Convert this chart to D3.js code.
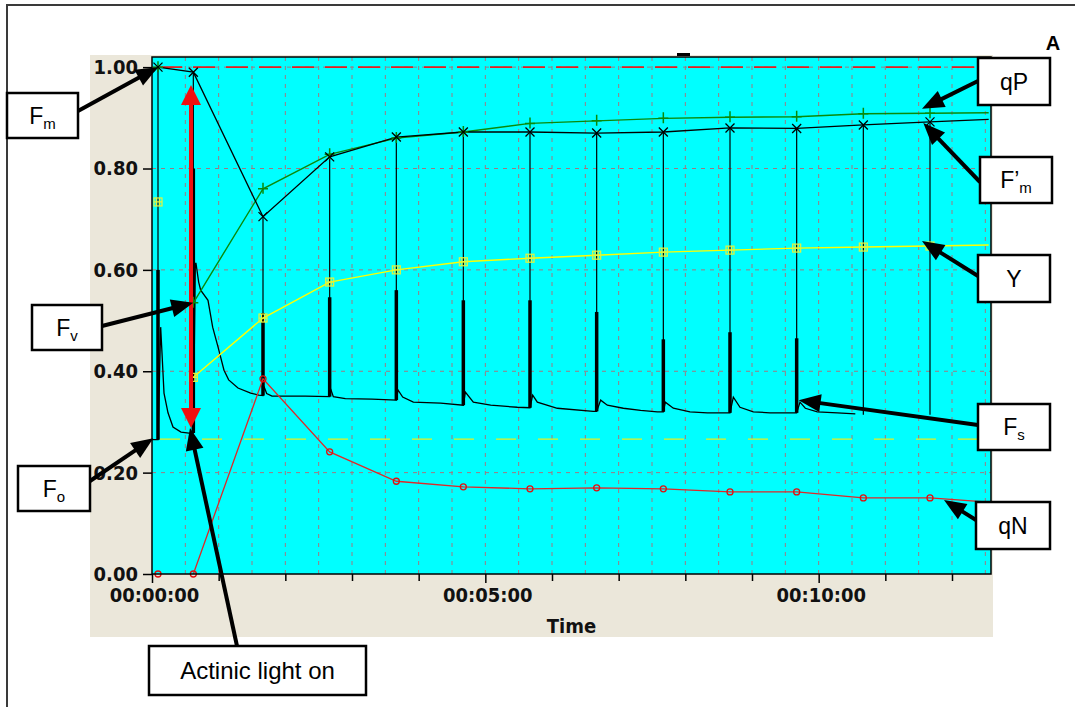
<!DOCTYPE html>
<html>
<head>
<meta charset="utf-8">
<script src="https://cdn.jsdelivr.net/npm/d3@7"></script>
<style>
  body { margin: 0; background: #ffffff; }
  svg { display: block; }
</style>
</head>
<body>
<svg id="chart" width="1075" height="707"></svg>
<script>
// ---- Data (time in minutes, values relative to Fm) ----
// Saturating pulse times
const pulseTimes = [0.09, 0.62, 1.665, 2.665, 3.665, 4.67, 5.67, 6.67, 7.67, 8.67, 9.67, 10.67, 11.67];
// F'm at each pulse
const fmPrime   = [1.00, 0.99, 0.705, 0.823, 0.862, 0.872, 0.872, 0.870, 0.872, 0.880, 0.879, 0.886, 0.892];
// steady-state level at each pulse (foot of the pulse)
const fsAtPulse = [0.265, 0.278, 0.352, 0.350, 0.343, 0.333, 0.328, 0.321, 0.320, 0.318, 0.318, 0.314, 0.314];
// top of the dense part of each pulse trace
const spikeTop  = [0.60, 0.80, 0.515, 0.546, 0.56, 0.54, 0.54, 0.517, 0.463, 0.477, 0.465, null, null];
// derived parameters at each pulse
const qPValues  = [1.00, 0.535, 0.760, 0.828, 0.860, 0.872, 0.889, 0.894, 0.899, 0.901, 0.902, 0.908, 0.909];
const yValues   = [0.734, 0.388, 0.505, 0.576, 0.600, 0.616, 0.623, 0.629, 0.635, 0.639, 0.643, 0.645, 0.647];
const qNValues  = [0.00, 0.00, 0.385, 0.241, 0.183, 0.172, 0.168, 0.170, 0.168, 0.162, 0.162, 0.150, 0.150];
// level of each parameter line at the end of the record
const endTime = 12.55;
const fmPrimeEnd = 0.897, qPEnd = 0.910, yEnd = 0.649, qNEnd = 0.142;
// dark-adapted Fo reference level
const foLevel = 0.266;
// continuous fluorescence trace [time, value]
const traceTimes = [0, 0.09, 0.13, 0.15, 0.165, 0.18, 0.24, 0.315, 0.435, 0.555, 0.62,
  0.65, 0.66, 0.70, 0.73, 0.84, 0.91, 0.99, 1.08, 1.15, 1.29, 1.48, 1.60, 1.665,
  1.68, 1.72, 1.80, 2.30, 2.665,
  2.68, 2.72, 2.90, 3.30, 3.665,
  3.69, 3.76, 3.92, 4.33, 4.67,
  4.70, 4.82, 5.08, 5.48, 5.67,
  5.71, 5.78, 6.08, 6.62, 6.67,
  6.73, 6.83, 7.07, 7.33, 7.58, 7.67,
  7.70, 7.82, 8.07, 8.33, 8.67,
  8.72, 8.82, 9.02, 9.27, 9.67,
  9.72, 9.80, 9.98, 10.28, 10.55];
const traceValues = [0.265, 0.265, 0.487, 0.436, 0.396, 0.357, 0.318, 0.290, 0.280, 0.278, 0.278,
  0.613, 0.613, 0.576, 0.560, 0.540, 0.487, 0.448, 0.402, 0.383, 0.367, 0.357, 0.353, 0.352,
  0.370, 0.356, 0.351, 0.351, 0.350,
  0.365, 0.350, 0.346, 0.345, 0.343,
  0.363, 0.349, 0.339, 0.337, 0.333,
  0.359, 0.339, 0.333, 0.329, 0.328,
  0.353, 0.339, 0.327, 0.321, 0.321,
  0.343, 0.333, 0.327, 0.323, 0.320, 0.320,
  0.339, 0.327, 0.320, 0.318, 0.318,
  0.349, 0.329, 0.320, 0.318, 0.318,
  0.339, 0.327, 0.320, 0.318, 0.316];
// axis ticks
const yTicks = [0, 0.2, 0.4, 0.6, 0.8, 1.0];
const xTicks = d3.range(0, 13, 1);
const xLabelled = [0, 5, 10];

// ---- Layout ----
const svg = d3.select("#chart");
const plot = { left: 152, top: 57, right: 991, bottom: 574 };
const x = d3.scaleLinear().domain([0, 12.585]).range([plot.left, plot.right]);
const y = d3.scaleLinear().domain([0, 1.02]).range([plot.bottom, plot.top]);

const tickFont = "'DejaVu Sans Condensed', 'DejaVu Sans', sans-serif";
const boxFont = "'Liberation Sans', Arial, sans-serif";

// outer frame (top and left edges)
svg.append("path").attr("d", "M7,707 V5 H1075")
  .attr("fill", "none").attr("stroke", "#3a3a3a").attr("stroke-width", 2);

// chart panel
svg.append("rect").attr("x", 90).attr("y", 55).attr("width", 903).attr("height", 582)
  .attr("fill", "#ebe7da");
svg.append("rect").attr("x", plot.left).attr("y", plot.top)
  .attr("width", plot.right - plot.left).attr("height", plot.bottom - plot.top)
  .attr("fill", "#00ffff");

// grid
const grid = svg.append("g").attr("stroke", "#a07880").attr("stroke-width", 1)
  .attr("stroke-dasharray", "4,5");
grid.selectAll("line.v").data(d3.range(0.5, 12.6, 0.5)).join("line")
  .attr("x1", d => x(d)).attr("x2", d => x(d))
  .attr("y1", plot.top).attr("y2", plot.bottom);
grid.selectAll("line.h").data(yTicks.slice(1)).join("line")
  .attr("x1", plot.left).attr("x2", plot.right)
  .attr("y1", d => y(d)).attr("y2", d => y(d));

// Fm (1.0) and Fo reference lines
svg.append("line").attr("x1", plot.left + 8).attr("x2", plot.right)
  .attr("y1", y(1)).attr("y2", y(1))
  .attr("stroke", "#e41e1e").attr("stroke-width", 1.7).attr("stroke-dasharray", "22,11");
svg.append("line").attr("x1", plot.left + 8).attr("x2", plot.right)
  .attr("y1", y(foLevel)).attr("y2", y(foLevel))
  .attr("stroke", "#e8f020").attr("stroke-width", 1.4).attr("stroke-dasharray", "20,22");

// fluorescence trace
const trace = traceTimes.map((t, i) => [t, traceValues[i]]);
svg.append("path").datum(trace)
  .attr("d", d3.line().x(d => x(d[0])).y(d => y(d[1])))
  .attr("fill", "none").attr("stroke", "#000").attr("stroke-width", 1.3);

// saturating pulses: thin line up to F'm, dense part drawn thick
const pulses = pulseTimes.map((t, i) => ({ t, fm: fmPrime[i], fs: fsAtPulse[i], top: spikeTop[i] }));
svg.append("g").selectAll("line").data(pulses).join("line")
  .attr("x1", d => x(d.t)).attr("x2", d => x(d.t))
  .attr("y1", d => y(d.fs)).attr("y2", d => y(d.fm))
  .attr("stroke", "#000").attr("stroke-width", 1.2);
svg.append("g").selectAll("line").data(pulses.filter(d => d.top !== null)).join("line")
  .attr("x1", d => x(d.t)).attr("x2", d => x(d.t))
  .attr("y1", d => y(d.fs)).attr("y2", d => y(d.top))
  .attr("stroke", "#000").attr("stroke-width", 3.5);

// parameter series
function seriesPoints(values, endValue, from) {
  const pts = pulseTimes.map((t, i) => [t, values[i]]).slice(from);
  pts.push([endTime, endValue]);
  return pts;
}
const line = d3.line().x(d => x(d[0])).y(d => y(d[1]));

const fmPts = seriesPoints(fmPrime, fmPrimeEnd, 0);
const qPPts = seriesPoints(qPValues, qPEnd, 1);
const yPts  = seriesPoints(yValues, yEnd, 1);
const qNPts = seriesPoints(qNValues, qNEnd, 1);

svg.append("path").datum(qNPts).attr("d", line)
  .attr("fill", "none").attr("stroke", "#e02828").attr("stroke-width", 1.3);
svg.append("path").datum(yPts).attr("d", line)
  .attr("fill", "none").attr("stroke", "#ffff00").attr("stroke-width", 1.4);
svg.append("path").datum(qPPts).attr("d", line)
  .attr("fill", "none").attr("stroke", "#0a8a0a").attr("stroke-width", 1.4);
svg.append("path").datum(fmPts).attr("d", line)
  .attr("fill", "none").attr("stroke", "#000").attr("stroke-width", 1.3);

// markers
const markerData = v => pulseTimes.map((t, i) => [t, v[i]]);
// qN: open circles
svg.append("g").selectAll("circle").data(markerData(qNValues)).join("circle")
  .attr("cx", d => x(d[0])).attr("cy", d => y(d[1])).attr("r", 3)
  .attr("fill", "none").attr("stroke", "#e01010").attr("stroke-width", 1.3);
// Y: hatched squares
const ym = svg.append("g").attr("stroke", "#e4f43c").attr("stroke-width", 1.2).attr("fill", "none");
markerData(yValues).forEach(d => {
  const cx = x(d[0]), cy = y(d[1]);
  ym.append("rect").attr("x", cx - 4).attr("y", cy - 4).attr("width", 8).attr("height", 8);
  ym.append("path").attr("d", `M${cx - 1.5},${cy - 4}V${cy + 4}M${cx + 1.5},${cy - 4}V${cy + 4}M${cx - 4},${cy}H${cx + 4}`);
});
// qP: plus signs
svg.append("g").selectAll("path").data(markerData(qPValues)).join("path")
  .attr("d", d => { const cx = x(d[0]), cy = y(d[1]); return `M${cx},${cy - 6}V${cy + 5}M${cx - 5},${cy}H${cx + 5}`; })
  .attr("stroke", "#0a8a0a").attr("stroke-width", 1.5).attr("fill", "none");
// F'm: crosses
svg.append("g").selectAll("path").data(markerData(fmPrime)).join("path")
  .attr("d", d => { const cx = x(d[0]), cy = y(d[1]); return `M${cx - 4.5},${cy - 4.5}L${cx + 4.5},${cy + 4.5}M${cx - 4.5},${cy + 4.5}L${cx + 4.5},${cy - 4.5}`; })
  .attr("stroke", "#000").attr("stroke-width", 1.3).attr("fill", "none");

// plot border
svg.append("rect").attr("x", plot.left).attr("y", plot.top)
  .attr("width", plot.right - plot.left).attr("height", plot.bottom - plot.top)
  .attr("fill", "none").attr("stroke", "#000").attr("stroke-width", 1.5);
svg.append("rect").attr("x", 677).attr("y", 53).attr("width", 13).attr("height", 3).attr("fill", "#000");

// axes
const fmtTime = m => d3.utcFormat("%H:%M:%S")(new Date(m * 60000));
const xAxis = svg.append("g").attr("transform", `translate(0,${plot.bottom})`)
  .call(d3.axisBottom(x).tickValues(xTicks).tickSize(7).tickPadding(7)
    .tickFormat(d => xLabelled.includes(d) ? fmtTime(d) : ""));
xAxis.select(".domain").remove();
xAxis.selectAll(".tick line").attr("stroke", "#000").attr("stroke-width", 1.5)
  .attr("y2", d => xLabelled.includes(d) ? 9 : 7);
xAxis.selectAll(".tick text").attr("fill", "#111")
  .style("font-family", tickFont).style("font-weight", "bold").style("font-size", "20px")
  .attr("dx", 2);

const yAxis = svg.append("g").attr("transform", `translate(${plot.left},0)`)
  .call(d3.axisLeft(y).tickValues(yTicks).tickSize(9).tickPadding(5).tickFormat(d3.format(".2f")));
yAxis.select(".domain").remove();
yAxis.selectAll(".tick line").attr("stroke", "#000").attr("stroke-width", 1.5);
yAxis.selectAll(".tick text").attr("fill", "#111")
  .style("font-family", tickFont).style("font-weight", "bold").style("font-size", "20px");

svg.append("text").attr("x", (plot.left + plot.right) / 2).attr("y", 633)
  .attr("text-anchor", "middle").attr("fill", "#111")
  .style("font-family", tickFont).style("font-weight", "bold").style("font-size", "20px")
  .text("Time");

svg.append("text").attr("x", 1053).attr("y", 50).attr("text-anchor", "middle")
  .style("font-family", boxFont).style("font-weight", "bold").style("font-size", "20px")
  .text("A");

// Fv double arrow between Fo and Fm
const fvX = x(0.585);
const fvTop = y(0.965), fvBot = y(0.288);
svg.append("line").attr("x1", fvX).attr("x2", fvX).attr("y1", fvTop + 16).attr("y2", fvBot - 16)
  .attr("stroke", "#f01010").attr("stroke-width", 4);
svg.append("path").attr("d", `M${fvX},${fvTop} L${fvX - 10},${fvTop + 20} L${fvX + 10},${fvTop + 20}Z`).attr("fill", "#f01010");
svg.append("path").attr("d", `M${fvX},${fvBot} L${fvX - 10},${fvBot - 20} L${fvX + 10},${fvBot - 20}Z`).attr("fill", "#f01010");

// callouts
function arrow(x1, y1, x2, y2) {
  const a = Math.atan2(y2 - y1, x2 - x1);
  const len = 22, half = 9;
  const bx = x2 - len * Math.cos(a), by = y2 - len * Math.sin(a);
  svg.append("line").attr("x1", x1).attr("y1", y1).attr("x2", bx + 2 * Math.cos(a)).attr("y2", by + 2 * Math.sin(a))
    .attr("stroke", "#000").attr("stroke-width", 4);
  svg.append("path")
    .attr("d", `M${x2},${y2} L${bx - half * Math.sin(a)},${by + half * Math.cos(a)} L${bx + half * Math.sin(a)},${by - half * Math.cos(a)}Z`)
    .attr("fill", "#000");
}
function callout(bx, by, bw, bh, main, sub, from, tip, size) {
  arrow(from[0], from[1], tip[0], tip[1]);
  svg.append("rect").attr("x", bx).attr("y", by).attr("width", bw).attr("height", bh)
    .attr("fill", "#fff").attr("stroke", "#000").attr("stroke-width", 2.5);
  const t = svg.append("text").attr("x", bx + bw / 2).attr("y", by + bh / 2 + 8)
    .attr("text-anchor", "middle").attr("fill", "#000")
    .style("font-family", boxFont).style("font-size", (size || 23) + "px");
  t.append("tspan").text(main);
  if (sub) t.append("tspan").attr("dy", 5).style("font-size", "15px").text(sub);
}

callout(7, 93, 71, 45, "F", "m", [78, 111], [x(0.09), y(1.0)]);
callout(32, 305, 70, 45, "F", "v", [102, 326], [x(0.62), y(0.535)]);
callout(18, 466, 72, 45, "F", "o", [90, 481], [x(0.02), y(0.268)]);
callout(149, 646, 217, 49, "Actinic light on", null, [237, 646], [x(0.57), y(0.288)], 24);
callout(978, 58, 72, 47, "qP", null, [978, 81], [x(11.55), y(0.918)]);
callout(980, 157, 72, 46, "F’", "m", [980, 182], [x(11.57), y(0.890)]);
callout(978, 255, 72, 47, "Y", null, [978, 276], [x(11.55), y(0.657)]);
callout(978, 404, 72, 46, "F", "s", [978, 425], [x(9.70), y(0.343)]);
callout(976, 502, 74, 47, "qN", null, [976, 520], [x(11.88), y(0.146)]);
</script>
</body>
</html>
